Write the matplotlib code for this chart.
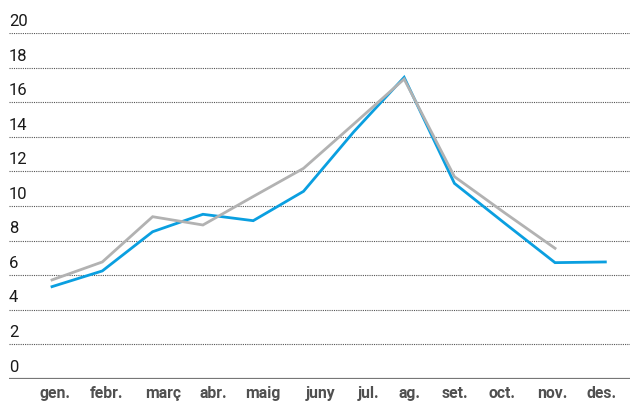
import matplotlib
matplotlib.use("Agg")
import matplotlib.pyplot as plt

months = ["gen.", "febr.", "març", "abr.", "maig", "juny", "jul.", "ag.", "set.", "oct.", "nov.", "des."]
series_blue = [5.33, 6.24, 8.51, 9.52, 9.15, 10.85, 14.3, 17.45, 11.31, 9.0, 6.72, 6.76]
series_gray = [5.72, 6.76, 9.38, 8.9, 10.55, 12.18, 14.75, 17.35, 11.7, 9.6, 7.55]
yticks = [0, 2, 4, 6, 8, 10, 12, 14, 16, 18, 20]

plt.rcParams['font.family'] = ['Roboto', 'DejaVu Sans']

fig = plt.figure(figsize=(6.3, 4.03), dpi=100)
ax = fig.add_axes([9/630, 24.3/403, 621/630, (378.7-33.3)/403])

x_blue = list(range(len(series_blue)))
x_gray = list(range(len(series_gray)))

for v in yticks[1:]:
    ax.axhline(v, color='#555555', lw=0.8, ls=(0, (1, 1)), zorder=1)
ax.axhline(0, color='#777777', lw=1.6, zorder=1)

ax.plot(x_gray, series_gray, color='#b2b2b2', lw=2.0, zorder=3, solid_joinstyle='miter')
ax.plot(x_blue, series_blue, color='#0a9fe0', lw=2.0, zorder=2, solid_joinstyle='miter')

ax.set_xlim(-0.855, 11.49)
ax.set_ylim(0, 20)

for v in yticks:
    ax.annotate(str(v), xy=(0, v), xycoords=('axes fraction', 'data'),
                xytext=(0, 3), textcoords='offset points',
                ha='left', va='bottom', fontsize=12, color='#1a1a1a',
                annotation_clip=False)

# month labels are laid out with slightly uneven spacing in the original
label_shift = [0.06, 0.08, 0.2, 0.2, 0.2, 0.34, 0.3, 0.1, 0.0, -0.05, -0.06, -0.07]
ax.set_xticks([i + s for i, s in zip(x_blue, label_shift)])
ax.set_xticklabels(months, fontsize=11.3, fontweight='bold', color='#505050')
ax.tick_params(axis='x', length=0, pad=5.5)
ax.set_yticks([])
for s in ax.spines.values():
    s.set_visible(False)

fig.savefig("out.png", dpi=100)
